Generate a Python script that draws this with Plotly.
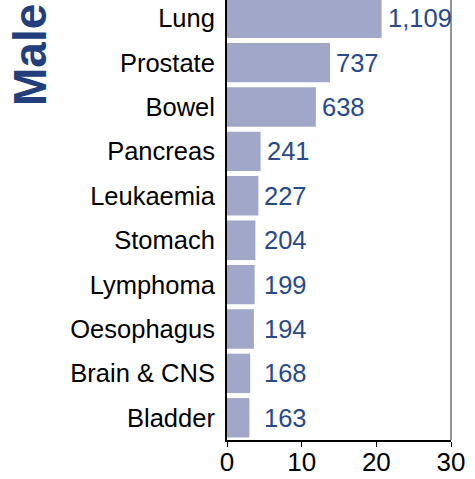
import plotly.graph_objects as go

# Top ten cancers, males - share of cases (%) and counts
cancers = ["Lung", "Prostate", "Bowel", "Pancreas", "Leukaemia",
           "Stomach", "Lymphoma", "Oesophagus", "Brain & CNS", "Bladder"]
percent = [20.7, 13.8, 11.9, 4.5, 4.2, 3.8, 3.7, 3.6, 3.1, 3.0]
counts = [1109, 737, 638, 241, 227, 204, 199, 194, 168, 163]

bar_col = "#a0a7c9"
label_col = "#28498a"
font = "Liberation Sans, Arial, sans-serif"

fig = go.Figure()
fig.add_trace(go.Bar(
    x=percent, y=cancers, orientation="h",
    marker=dict(color=bar_col, line=dict(width=0)),
    hoverinfo="skip",
))

# count labels sit just right of the bar, short bars share a common start
for name, p, c in zip(cancers, percent, counts):
    fig.add_annotation(
        x=max(p, 4.2), y=name, text=f"{c:,}",
        xanchor="left", yanchor="middle", xshift=4, showarrow=False,
        font=dict(family=font, size=25.5, color=label_col),
    )

# side title
fig.add_annotation(
    xref="x domain", yref="y domain", x=(30 - 227) / 224, y=1 - 55 / 440,
    text="<b>Male</b>", textangle=-90, showarrow=False,
    xanchor="center", yanchor="middle",
    font=dict(family=font, size=46, color="#223f7c"),
)

# right-hand frame edge
fig.add_shape(type="line", xref="paper", yref="paper", x0=1, x1=1, y0=0, y1=1,
              line=dict(color="#707070", width=1.5))

fig.update_layout(
    width=475, height=479,
    margin=dict(l=227, r=24, t=0, b=39, autoexpand=False),
    plot_bgcolor="white", paper_bgcolor="white",
    bargap=0.113, showlegend=False,
    font=dict(family=font, color="black"),
)
fig.update_xaxes(
    range=[0, 30], tickvals=[0, 10, 20, 30], showgrid=False, zeroline=False,
    showline=True, linecolor="black", linewidth=1.5, automargin=False,
    ticks="outside", ticklen=5, tickcolor="black", tickwidth=1,
    tickfont=dict(family=font, size=26, color="black"),
    ticklabelstandoff=-7,
)
fig.update_yaxes(
    type="category", categoryorder="array", categoryarray=cancers,
    range=[9.5, -0.41], showgrid=False, zeroline=False, automargin=False,
    showline=True, linecolor="black", linewidth=2, ticks="",
    tickfont=dict(family=font, size=25.5, color="black"),
    ticklabelstandoff=5,
)

# drop the default body margin so the figure sits at the page corner
fig.write_html("out.html", config={"displayModeBar": False},
               post_script="document.body.style.margin='0';")
